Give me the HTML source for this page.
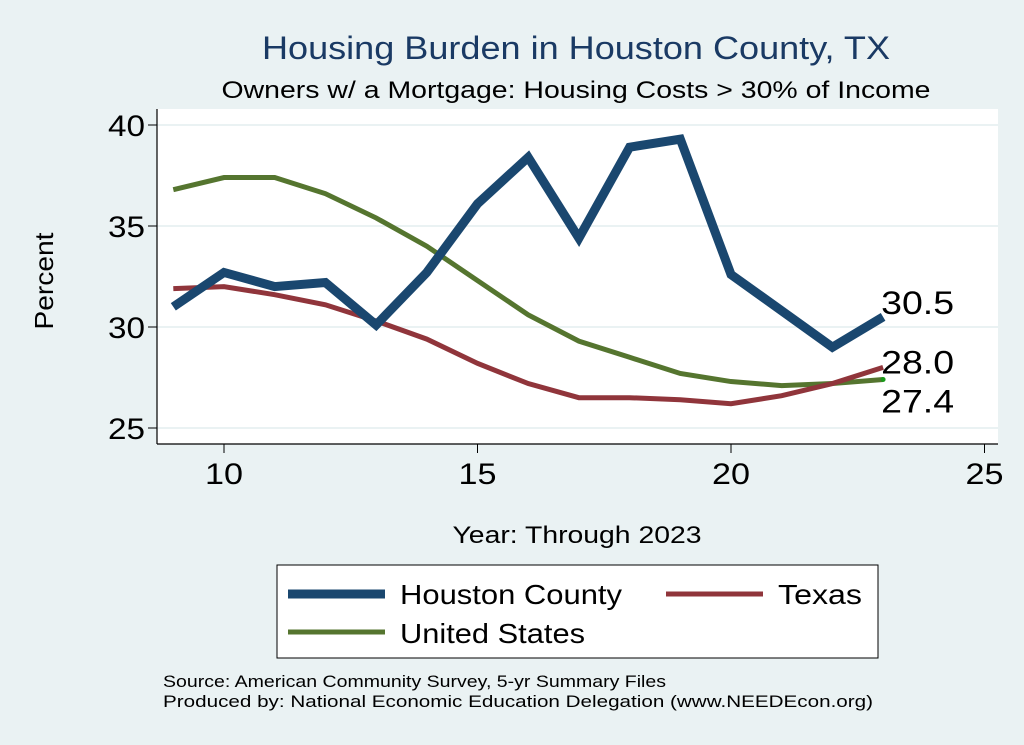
<!DOCTYPE html>
<html><head><meta charset="utf-8"><style>
body{margin:0;background:#eaf2f3;}
svg{display:block;font-family:"Liberation Sans",sans-serif;}
</style></head><body>
<svg id="c" width="1024" height="745">
<rect x="0" y="0" width="1024" height="745" fill="#eaf2f3"/>
<text x="576" y="59" font-size="32" fill="#1a3a64" text-anchor="middle" textLength="628" lengthAdjust="spacingAndGlyphs">Housing Burden in Houston County, TX</text>
<text x="576" y="98" font-size="24" fill="#000" text-anchor="middle" textLength="709" lengthAdjust="spacingAndGlyphs">Owners w/ a Mortgage: Housing Costs &gt; 30% of Income</text>
<rect x="157" y="109" width="841" height="335" fill="#fff"/>
<g id="grid"></g>
<g id="axes"></g>
<g id="lines"></g>
<text x="53" y="281" font-size="26" text-anchor="middle" textLength="97" lengthAdjust="spacingAndGlyphs" transform="rotate(-90 53 281)">Percent</text>
<text x="577" y="543" font-size="24" text-anchor="middle" textLength="249" lengthAdjust="spacingAndGlyphs">Year: Through 2023</text>
<g>
<rect x="277" y="565" width="601" height="93" fill="#fff" stroke="#000" stroke-width="1"/>
<line x1="288" y1="594" x2="385" y2="594" stroke="#1a476f" stroke-width="9"/>
<text x="400" y="604" font-size="28" textLength="222" lengthAdjust="spacingAndGlyphs">Houston County</text>
<line x1="666" y1="594" x2="763" y2="594" stroke="#90353b" stroke-width="5"/>
<text x="778" y="604" font-size="28" textLength="84" lengthAdjust="spacingAndGlyphs">Texas</text>
<line x1="288" y1="632" x2="385" y2="632" stroke="#55752f" stroke-width="5"/>
<text x="400" y="643" font-size="28" textLength="185" lengthAdjust="spacingAndGlyphs">United States</text>
</g>
<text x="163" y="687" font-size="17" textLength="503" lengthAdjust="spacingAndGlyphs">Source: American Community Survey, 5-yr Summary Files</text>
<text x="163" y="707" font-size="17" textLength="710" lengthAdjust="spacingAndGlyphs">Produced by: National Economic Education Delegation (www.NEEDEcon.org)</text>
</svg>
<script>
const years=[9,10,11,12,13,14,15,16,17,18,19,20,21,22,23];
const houston=[31.0,32.7,32.0,32.2,30.1,32.7,36.1,38.4,34.4,38.9,39.3,32.6,30.8,29.0,30.5];
const texas=[31.9,32.0,31.6,31.1,30.3,29.4,28.2,27.2,26.5,26.5,26.4,26.2,26.6,27.2,28.0];
const us=[36.8,37.4,37.4,36.6,35.4,34.0,32.3,30.6,29.3,28.5,27.7,27.3,27.1,27.2,27.4];
const xTicks=[10,15,20,25];
const yTicks=[25,30,35,40];
const NS='http://www.w3.org/2000/svg';
function X(v){return 224+(v-10)*50.7;}
function Y(v){return 125+(40-v)*20.2;}
function mk(t,a,p){const e=document.createElementNS(NS,t);for(const k in a)e.setAttribute(k,a[k]);p.appendChild(e);return e;}
const grid=document.getElementById('grid'),axes=document.getElementById('axes'),lines=document.getElementById('lines');
yTicks.forEach(v=>{
 const g=mk('line',{x1:157,x2:998,y1:Y(v),y2:Y(v),stroke:'#eaf2f3','stroke-width':2},grid);
 
 
 const t=mk('line',{x1:148,x2:157,y1:Y(v),y2:Y(v),stroke:'#000','stroke-width':1},axes);
 
 
 const l=mk('text',{x:145,y:Y(v)+11,'font-size':30,'text-anchor':'end',textLength:37,lengthAdjust:'spacingAndGlyphs'},axes);l.textContent=v;
 
 
});
xTicks.forEach(v=>{
 const t=mk('line',{x1:X(v),x2:X(v),y1:444,y2:453,stroke:'#000','stroke-width':1},axes);
 
 
 const l=mk('text',{x:X(v),y:484,'font-size':30,'text-anchor':'middle',textLength:38,lengthAdjust:'spacingAndGlyphs'},axes);l.textContent=v;
 
 
});
const ya=mk('line',{x1:157,x2:157,y1:109,y2:444,stroke:'#000','stroke-width':1.2},axes);


const xa=mk('line',{x1:157,x2:998,y1:444,y2:444,stroke:'#000','stroke-width':1.2},axes);


function series(vals,color,w,name){
 const p=mk('polyline',{points:vals.map((v,i)=>X(years[i])+','+Y(v)).join(' '),fill:'none',stroke:color,'stroke-width':w,'stroke-linejoin':'miter'},lines);
 
 
}
series(us,'#55752f',5,'line-united-states');
series(texas,'#90353b',5,'line-texas');
series(houston,'#1a476f',9,'line-houston-county');
const last=years.length-1;
const dot=mk('circle',{cx:X(years[last]),cy:Y(us[last]),r:2.5,fill:'#1a9a1a'},lines);


[[houston,'label-houston-end',-3],[texas,'label-texas-end',6],[us,'label-us-end',33]].forEach(([s,n,dy])=>{
 const t=mk('text',{x:X(years[last])-2,y:Y(s[last])+dy,'font-size':32,textLength:73,lengthAdjust:'spacingAndGlyphs'},lines);
 t.textContent=s[last].toFixed(1);
 
 
});
</script>
</body></html>
